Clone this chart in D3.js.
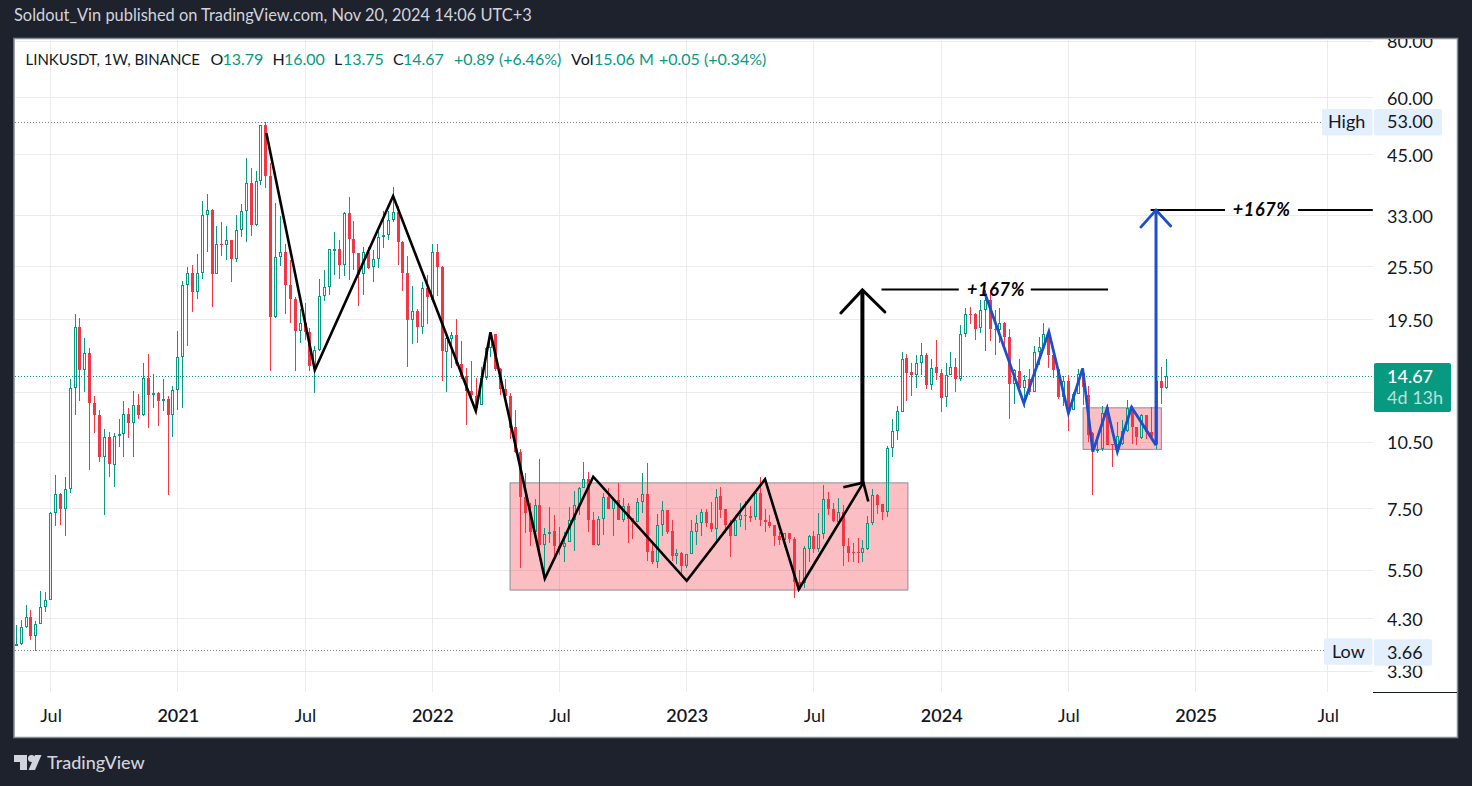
<!DOCTYPE html>
<html>
<head>
<meta charset="utf-8">
<script src="https://cdn.jsdelivr.net/npm/d3@7"></script>
<style>
  html, body { margin: 0; padding: 0; background: #1e222d; }
  svg { display: block; }
  text { font-family: Lato, "Open Sans", sans-serif; }
</style>
</head>
<body>
<div id="chart"></div>
<script>
// weekly candles, LINKUSDT, bar 0 = week of 18 May 2020
var opens = [
  3.77,3.78,4.12,4.34,3.94,4.19,4.56,4.73,7.34,8.09,
  7.48,8.29,13.80,18.78,15.10,16.47,12.80,12.03,9.73,10.78,
  9.35,10.82,10.93,12.10,11.56,12.67,12.08,14.53,13.36,13.46,
  12.92,13.05,12.08,13.67,16.16,23.24,24.69,22.51,24.69,33.14,
  33.97,24.65,28.61,28.46,29.17,26.58,30.71,33.79,38.94,31.59,
  39.36,52.20,40.47,19.78,26.81,27.50,23.29,21.69,18.43,19.22,
  18.37,15.18,16.77,22.02,23.05,27.87,27.92,25.70,33.49,29.37,
  27.31,24.56,27.50,25.44,26.54,29.66,29.91,32.32,33.66,28.93,
  24.72,19.48,20.42,18.80,22.94,21.62,27.50,25.54,16.59,17.71,
  18.09,15.62,14.68,13.63,13.30,12.70,14.53,16.88,18.12,15.22,
  13.72,13.30,11.33,10.00,7.96,7.33,6.67,7.64,6.24,6.60,
  6.70,6.20,6.18,6.33,7.08,7.63,8.32,8.74,7.08,6.23,
  7.13,7.97,7.50,7.83,7.09,7.59,7.15,7.03,7.75,8.07,
  6.06,5.74,6.90,7.45,6.69,5.92,5.99,5.60,5.96,6.68,
  6.97,7.36,6.97,6.78,8.00,7.49,6.97,6.52,7.08,7.26,
  7.24,7.18,8.14,7.09,7.02,6.91,6.54,6.41,6.63,6.44,
  5.18,5.15,6.13,6.54,6.13,6.59,7.87,7.51,7.03,7.38,
  6.22,6.02,6.02,5.99,6.13,6.97,8.03,7.68,7.39,10.20,
  11.11,12.24,16.05,14.99,14.74,15.70,16.35,14.06,15.34,14.94,
  13.18,14.79,15.39,14.47,18.16,20.08,20.08,18.68,20.49,21.62,
  18.62,18.53,19.20,17.89,14.09,15.09,13.81,14.43,13.56,16.57,
  16.98,18.25,16.35,15.19,13.22,14.31,12.39,13.40,14.94,13.33,
  10.98,10.03,10.14,12.54,10.39,10.38,10.43,11.13,12.51,11.33,
  10.74,12.06,11.08,10.43,14.31,13.79
];
var highs = [
  4.17,4.27,4.61,4.50,4.25,4.95,4.92,7.38,8.90,8.13,
  8.80,14.47,20.10,19.70,17.78,16.88,13.29,12.38,11.21,11.07,
  11.01,11.82,12.93,12.49,13.63,13.41,15.71,16.42,14.81,13.55,
  14.47,13.27,13.97,18.45,23.70,25.48,25.76,27.26,35.58,36.93,
  34.15,31.37,31.99,31.31,29.27,33.20,35.07,44.18,42.02,41.37,
  52.28,53.00,43.09,35.21,32.93,28.64,26.45,21.90,20.56,21.26,
  18.68,17.11,24.04,25.14,27.92,30.47,29.26,33.66,36.36,32.22,
  27.37,28.20,28.20,27.82,31.30,33.78,33.78,38.24,34.63,29.12,
  26.99,23.21,20.56,23.66,24.52,28.64,28.64,25.66,18.02,18.37,
  19.56,17.49,15.31,15.88,14.51,15.39,17.00,18.27,18.12,15.31,
  14.48,13.49,12.35,10.15,8.97,7.71,7.87,9.65,6.79,7.55,
  7.27,6.83,6.68,7.55,8.19,8.36,9.49,9.02,7.38,7.24,
  8.14,8.32,7.91,8.53,7.91,7.71,7.15,7.91,8.98,9.46,
  6.35,7.30,7.80,7.47,7.09,6.11,6.04,5.97,7.09,7.27,
  7.49,7.49,7.77,8.28,8.39,7.51,7.09,7.27,7.71,7.80,
  7.60,8.18,8.79,7.49,7.27,6.91,6.68,6.65,6.65,6.50,
  5.51,6.20,6.58,6.70,7.33,8.46,8.15,7.71,7.91,7.64,
  6.46,6.30,6.46,6.41,7.23,8.28,8.07,7.68,10.30,11.82,
  12.64,16.59,16.38,15.70,16.29,17.36,16.46,15.97,17.65,15.19,
  15.70,16.57,16.05,18.96,20.76,20.87,20.18,21.60,22.70,22.70,
  20.52,20.70,19.30,18.62,15.19,16.02,14.74,15.19,17.13,17.89,
  19.20,18.41,16.43,15.19,14.69,14.79,13.51,15.19,15.31,13.97,
  11.06,10.87,12.60,12.75,10.43,11.63,11.78,13.00,12.64,11.33,
  12.12,12.08,12.58,14.89,15.39,16.00
];
var lows = [
  3.74,3.77,4.10,3.87,3.66,4.19,4.44,4.73,6.86,6.92,
  6.52,8.14,12.06,12.92,13.51,9.11,11.03,9.52,7.27,8.82,
  8.38,10.26,9.76,10.74,9.76,11.82,12.02,11.31,12.49,11.41,
  12.32,8.05,10.80,12.38,12.49,17.13,20.33,21.73,23.99,27.55,
  20.86,24.65,26.97,26.45,23.66,26.17,29.74,28.86,29.85,31.37,
  38.67,38.08,15.06,19.70,25.57,20.05,19.19,15.06,17.34,17.66,
  15.06,13.47,16.65,21.43,22.14,24.52,23.93,24.33,23.81,25.14,
  20.90,22.14,25.23,23.61,25.31,28.06,29.17,31.94,25.79,22.63,
  15.36,17.25,17.34,18.15,19.06,21.34,21.99,14.32,13.54,15.28,
  15.44,14.43,11.46,13.05,12.30,12.70,14.38,16.18,15.06,13.36,
  13.22,10.65,9.97,5.55,6.65,6.20,6.67,5.94,5.28,6.32,
  5.87,5.94,5.72,6.33,6.07,7.27,8.32,6.68,6.23,6.20,
  6.58,7.50,6.52,7.07,7.03,6.32,6.44,7.03,7.35,5.77,
  5.68,5.55,6.55,6.61,5.77,5.67,5.40,5.55,5.96,6.25,
  6.52,6.83,6.67,6.41,7.15,6.65,5.89,6.52,6.85,6.74,
  7.03,7.09,6.87,6.68,6.79,6.22,6.25,6.18,6.32,4.77,
  4.98,5.01,5.72,5.99,6.04,6.45,7.27,7.02,6.97,5.60,
  5.74,5.74,5.70,5.74,6.09,6.92,7.30,7.09,7.21,9.74,
  10.60,12.22,12.96,13.29,13.85,14.74,13.78,13.69,14.38,12.26,
  12.58,14.74,13.56,14.33,17.86,19.10,17.59,18.25,16.65,17.50,
  16.29,17.36,16.79,11.82,12.75,13.74,12.47,13.33,13.51,15.49,
  16.93,15.31,14.52,13.07,12.64,11.13,12.39,13.40,12.68,10.52,
  8.06,9.97,10.03,10.34,9.28,10.09,10.34,11.06,10.43,10.34,
  10.65,10.69,10.69,10.14,12.75,13.75
];
var closes = [
  3.78,4.12,4.34,3.94,4.19,4.56,4.73,7.34,8.08,7.48,
  8.29,13.80,18.78,15.10,16.47,12.78,12.03,9.73,10.78,9.39,
  10.84,10.93,12.10,11.55,12.67,12.08,14.53,13.31,13.46,12.92,
  13.05,12.08,13.67,16.16,23.24,24.69,22.51,24.69,33.14,33.97,
  24.65,28.61,28.51,29.17,26.58,30.71,33.79,38.94,31.59,39.36,
  52.19,40.47,19.78,26.81,27.50,23.25,21.65,18.43,19.22,18.34,
  15.44,16.77,22.02,23.05,27.92,27.92,25.70,33.49,29.31,27.31,
  24.52,27.46,25.40,26.54,29.66,29.96,32.32,33.66,28.88,24.68,
  19.48,20.42,18.80,22.94,21.90,27.50,25.44,16.65,17.78,18.09,
  15.62,14.61,13.58,13.33,12.51,14.56,16.88,18.12,15.18,13.72,
  13.27,11.27,10.01,7.95,7.33,6.68,7.63,6.25,6.60,6.68,
  6.20,6.18,6.32,7.08,7.63,8.32,8.74,7.07,6.23,7.13,
  7.97,7.50,7.83,7.07,7.59,7.12,7.03,7.75,8.07,6.04,
  5.74,6.90,7.44,6.67,5.92,5.99,5.60,5.96,6.69,6.97,
  7.36,6.97,6.78,7.98,7.45,6.91,6.52,7.09,7.26,7.24,
  7.17,8.11,7.07,7.00,6.87,6.52,6.41,6.63,6.43,5.17,
  5.00,6.14,6.54,6.13,6.60,7.87,7.49,7.04,7.36,6.20,
  6.01,6.01,6.01,6.15,6.97,8.03,7.66,7.39,10.18,11.11,
  12.28,16.02,14.94,14.74,15.70,16.35,14.06,15.31,14.94,13.16,
  14.79,15.39,14.47,18.16,20.08,20.05,18.65,20.49,21.62,18.59,
  18.53,19.20,17.86,14.09,15.11,13.81,14.40,13.51,16.59,16.98,
  18.16,16.29,15.14,13.20,14.31,12.22,13.40,14.87,13.92,10.91,
  10.05,10.17,12.16,10.38,10.38,10.84,11.09,12.47,11.32,10.76,
  12.06,11.06,10.76,14.31,13.79,14.67
];

// axis ticks
var priceTicks = [80, 60, 45, 33, 25.5, 19.5, 13.5, 10.5, 7.5, 5.5, 4.3, 3.3];
var timeTickBars = [7, 33, 59, 85, 111, 137, 163, 189, 215, 241, 268];
var timeTickLabels = ["Jul", "2021", "Jul", "2022", "Jul", "2023", "Jul", "2024", "Jul", "2025", "Jul"];

// price levels
var lastPrice = 14.67, highPrice = 53.0, lowPrice = 3.66;

// drawings, as [bar, price]
var bigBox = [[100.9, 8.55], [182.2, 4.97]];
var smallBox = [[218, 12.5], [234, 10.13]];
var blackZigzag = [[51.1, 50.2], [61, 15.14], [77, 36.5], [93.9, 12.3], [96.9, 18.32], [108, 5.27],
  [117.9, 8.82], [137, 5.21], [153, 8.71], [159.9, 4.99], [173.1, 8.56]];
var blackTick = [[169, 8.36], [173.1, 8.56], [174.1, 7.78]];
var blackArrowShaft = [[172.9, 8.56], [172.9, 22.69]];
var blackArrowHead = [[168.5, 20.2], [172.9, 22.69], [177.5, 20.3]];
var blackRuleA = [[[176.8, 22.75], [192.6, 22.75]], [[207.3, 22.75], [223.1, 22.75]]];
var blackRuleB = [[[231.8, 34], [247, 34]], [[261.9, 34], [277.2, 34]]];
var blueZigzag = [[197.7, 22.69], [205.9, 12.79], [211, 18.37], [215, 12.16], [217.9, 15.26], [220, 10.01],
  [222.9, 12.47], [225, 10.01], [227.9, 12.54], [232.9, 10.35]];
var blueArrowShaft = [[232.9, 10.35], [232.9, 34]];
var blueArrowHead = [[229.8, 31.2], [232.9, 34], [235.9, 31.36]];
var moveLabels = [[200.2, 22.75, "+167%"], [254.5, 34, "+167%"]];

var green = "#089981", red = "#f23645", gridColor = "#ebebed", ink = "#131722";

var bars = d3.range(opens.length).map(function(i) {
  return { i: i, o: opens[i], h: highs[i], l: lows[i], c: closes[i], up: closes[i] >= opens[i] };
});

var svg = d3.select("#chart").append("svg").attr("width", 1472).attr("height", 786);

var x = d3.scaleLinear().domain([0, 235]).range([16.3, 1166.3]);
var y = d3.scaleLog().domain([3.3, 80]).range([671, 41]);
var snap = function(v) { return Math.floor(v) + 0.5; };
var price2 = d3.format(".2f");

var defs = svg.append("defs");
defs.append("clipPath").attr("id", "plot").append("rect").attr("x", 15).attr("y", 39).attr("width", 1358).attr("height", 653);
defs.append("clipPath").attr("id", "pane").append("rect").attr("x", 15).attr("y", 39).attr("width", 1442).attr("height", 698);

// white panel
svg.append("rect").attr("x", 14).attr("y", 38.5).attr("width", 1443.5).attr("height", 699)
  .attr("fill", "#fff").attr("stroke", "#878a93").attr("stroke-width", 1.5);

// header
svg.append("text").attr("x", 14).attr("y", 21).attr("fill", "#d1d4dc").attr("font-size", 16.4)
  .text("Soldout_Vin published on TradingView.com, Nov 20, 2024 14:06 UTC+3");

var plot = svg.append("g").attr("clip-path", "url(#plot)");

// grid
plot.selectAll(".gridH").data(priceTicks).enter().append("line").attr("class", "gridH")
  .attr("x1", 15).attr("x2", 1373)
  .attr("y1", function(d) { return snap(y(d)); }).attr("y2", function(d) { return snap(y(d)); })
  .attr("stroke", gridColor);
plot.selectAll(".gridV").data(timeTickBars).enter().append("line").attr("class", "gridV")
  .attr("y1", 39).attr("y2", 692)
  .attr("x1", function(d) { return snap(x(d)); }).attr("x2", function(d) { return snap(x(d)); })
  .attr("stroke", gridColor);

// boxes sit under the candles
plot.selectAll(".box").data([bigBox, smallBox]).enter().append("rect").attr("class", "box")
  .attr("x", function(d) { return x(d[0][0]); })
  .attr("y", function(d) { return y(d[0][1]); })
  .attr("width", function(d) { return x(d[1][0]) - x(d[0][0]); })
  .attr("height", function(d) { return y(d[1][1]) - y(d[0][1]); })
  .attr("fill", "rgba(242,54,69,0.32)").attr("stroke", "#8e8e92").attr("stroke-width", 1);

// level lines
plot.selectAll(".level").data([[highPrice, "#787b86"], [lowPrice, "#787b86"], [lastPrice, green]]).enter()
  .append("line").attr("class", "level")
  .attr("x1", 15).attr("x2", 1373)
  .attr("y1", function(d) { return snap(y(d[0])); }).attr("y2", function(d) { return snap(y(d[0])); })
  .attr("stroke", function(d) { return d[1]; })
  .attr("stroke-dasharray", "1 2");

// candles, up bars hollow so the wick stops at the body
var candle = plot.selectAll(".candle").data(bars).enter().append("g").attr("class", "candle")
  .attr("shape-rendering", "crispEdges");
var color = function(d) { return d.up ? green : red; };
var bodyTop = function(d) { return Math.round(y(Math.max(d.o, d.c))); };
var bodyBot = function(d) { return Math.max(bodyTop(d) + 1, Math.round(y(Math.min(d.o, d.c)))); };
candle.append("line").attr("class", "wickHigh")
  .attr("x1", function(d) { return snap(x(d.i)); }).attr("x2", function(d) { return snap(x(d.i)); })
  .attr("y1", function(d) { return y(d.h); }).attr("y2", bodyTop)
  .attr("stroke", color);
candle.append("line").attr("class", "wickLow")
  .attr("x1", function(d) { return snap(x(d.i)); }).attr("x2", function(d) { return snap(x(d.i)); })
  .attr("y1", bodyBot).attr("y2", function(d) { return y(d.l); })
  .attr("stroke", color);
candle.filter(function(d) { return d.up; }).append("rect")
  .attr("x", function(d) { return snap(x(d.i)) - 1; })
  .attr("y", function(d) { return bodyTop(d) + 0.5; })
  .attr("width", 2)
  .attr("height", function(d) { return Math.max(1, bodyBot(d) - bodyTop(d) - 1); })
  .attr("fill", "none")
  .attr("stroke", green);
candle.filter(function(d) { return !d.up; }).append("rect")
  .attr("x", function(d) { return snap(x(d.i)) - 1.5; })
  .attr("y", bodyTop)
  .attr("width", 3)
  .attr("height", function(d) { return bodyBot(d) - bodyTop(d); })
  .attr("fill", red);

// drawings
var path = d3.line().x(function(d) { return x(d[0]); }).y(function(d) { return y(d[1]); });
function stroke(pts, col, w, cap) {
  plot.append("path").attr("d", path(pts)).attr("fill", "none").attr("stroke", col)
    .attr("stroke-width", w).attr("stroke-linejoin", "miter").attr("stroke-linecap", cap || "butt");
}
stroke(blackZigzag, "#000", 2.6);
stroke(blackTick, "#000", 2.6);
stroke(blackArrowShaft, "#000", 4);
stroke(blackArrowHead, "#000", 3, "round");
blackRuleA.concat(blackRuleB).forEach(function(r) { stroke(r, "#000", 2); });
stroke(blueZigzag, "#1c4fcc", 2.8);
stroke(blueArrowShaft, "#1c4fcc", 3);
stroke(blueArrowHead, "#1c4fcc", 2.8, "round");
plot.selectAll(".move").data(moveLabels).enter().append("text").attr("class", "move")
  .attr("x", function(d) { return x(d[0]); }).attr("y", function(d) { return y(d[1]); })
  .attr("dy", "0.35em").attr("text-anchor", "middle")
  .attr("font-size", 18).attr("font-style", "italic").attr("font-weight", 700)
  .attr("letter-spacing", 0.7).attr("fill", "#000")
  .text(function(d) { return d[2]; });

// axes; 13.50 has a grid line but its label sits behind the last price tag
var priceAxis = d3.axisRight(y).tickValues(priceTicks).tickSize(0).tickPadding(0)
  .tickFormat(function(d) { return d === 13.5 ? "" : price2(d); });
var yAxisG = svg.append("g").attr("clip-path", "url(#pane)").append("g").attr("transform", "translate(1387,0.6)").call(priceAxis);
yAxisG.select(".domain").remove();
yAxisG.selectAll("text").attr("font-size", 18).attr("font-family", "Lato").attr("fill", ink);

var timeAxis = d3.axisBottom(x).tickValues(timeTickBars).tickSize(0).tickPadding(0)
  .tickFormat(function(d, i) { return timeTickLabels[i]; });
var xAxisG = svg.append("g").attr("transform", "translate(0,709)").call(timeAxis);
xAxisG.select(".domain").remove();
xAxisG.selectAll("text").attr("font-size", 18).attr("font-family", "Lato").attr("fill", ink)
  .attr("font-weight", function(d, i) { return /^\d/.test(timeTickLabels[i]) ? 600 : 400; });

svg.append("line").attr("x1", 1373).attr("x2", 1457).attr("y1", 692.5).attr("y2", 692.5).attr("stroke", ink);

// price scale tags
function tag(x0, x1, yc, h, fill, label, col) {
  svg.append("rect").attr("x", x0).attr("y", yc - h / 2).attr("width", x1 - x0).attr("height", h).attr("rx", 2).attr("fill", fill);
  svg.append("text").attr("x", label.x).attr("y", yc).attr("dy", "0.34em").attr("font-size", 18).attr("fill", col).text(label.t);
}
tag(1322, 1372.5, y(highPrice), 26.5, "#e3effd", { x: 1328, t: "High" }, ink);
tag(1374, 1442, y(highPrice), 26.5, "#e3effd", { x: 1387, t: price2(highPrice) }, ink);
tag(1324, 1372.5, y(lowPrice) + 1, 26.5, "#e3effd", { x: 1332, t: "Low" }, ink);
tag(1374, 1432, y(lowPrice) + 2, 26.5, "#e3effd", { x: 1387, t: price2(lowPrice) }, ink);
svg.append("rect").attr("x", 1374).attr("y", 363).attr("width", 77).attr("height", 49).attr("rx", 2).attr("fill", green);
svg.append("text").attr("x", 1387).attr("y", y(lastPrice)).attr("dy", "0.36em").attr("font-size", 18).attr("font-weight", 500).attr("fill", "#fff")
  .text(price2(lastPrice));
svg.append("text").attr("x", 1387).attr("y", 398).attr("dy", "0.36em").attr("font-size", 18).attr("fill", "rgba(255,255,255,0.72)").text("4d 13h");

// legend
var legendParts = [
  [25.5, "LINKUSDT, 1W, BINANCE", ink, 174.5], [210.5, "O", ink], [222.5, "13.79", green], [272.5, "H", ink], [284, "16.00", green],
  [334, "L", ink], [343, "13.75", green], [393, "C", ink], [403, "14.67", green], [454, "+0.89 (+6.46%)", green],
  [571, "Vol", ink], [594, "15.06 M", green], [659, "+0.05 (+0.34%)", green]
];
var legend = svg.selectAll(".legend").data(legendParts).enter().append("text").attr("class", "legend")
  .attr("x", function(d) { return d[0]; }).attr("y", 65).attr("font-size", 16)
  .attr("fill", function(d) { return d[2]; }).text(function(d) { return d[1]; });
legend.filter(function(d) { return d[3]; })
  .attr("textLength", function(d) { return d[3]; }).attr("lengthAdjust", "spacingAndGlyphs");

// logo
var logo = svg.append("g").attr("fill", "#d1d4dc");
logo.append("path").attr("d", "M14 755H27V770H20V762H14Z");
logo.append("circle").attr("cx", 31.5).attr("cy", 758.5).attr("r", 3.5);
logo.append("path").attr("d", "M35 755H41.5L35 770H28.5Z");
svg.append("text").attr("x", 47).attr("y", 769).attr("font-size", 18).attr("font-weight", 500).attr("fill", "#d1d4dc").text("TradingView");
</script>
</body>
</html>
